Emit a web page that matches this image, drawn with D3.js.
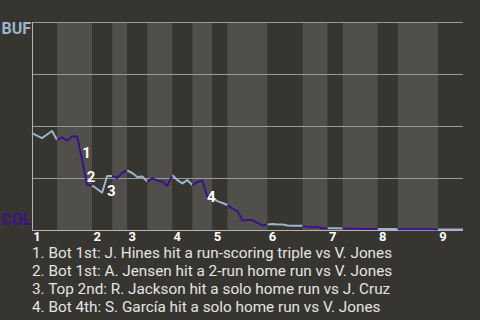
<!DOCTYPE html>
<html lang="en">
<head>
<meta charset="UTF-8">
<title>Win probability</title>
<script src="https://d3js.org/d3.v7.min.js"></script>
<style>
  html, body { margin: 0; padding: 0; background: #373530; }
  svg { display: block; font-family: Roboto, "Noto Sans", sans-serif; }
</style>
</head>
<body>
<div id="vis"></div>
<script>
// BUF win probability (%) after each plate appearance
var winProb = [
  46.6, 45.4, 44.2, 45.9, 47.6, 43.3, 44.5, 43.0, 45.0, 45.0,
  33.7, 21.6, 21.4, 19.7, 18.0, 26.0, 26.0, 25.0, 27.4, 28.6,
  27.4, 25.5, 25.7, 23.3, 24.8, 23.8, 23.3, 21.2, 26.4, 24.0,
  22.4, 24.0, 21.6, 23.1, 23.8, 15.9, 15.4, 13.9, 13.0, 12.0,
  10.3, 9.1, 4.6, 4.8, 4.8, 3.4, 2.2, 2.7, 2.9, 2.6,
  2.6, 2.2, 2.1, 2.1, 2.1, 1.4, 1.4, 1.4, 0.8, 0.8,
  0.8, 0.8, 0.7, 0.6, 0.6, 0.6, 0.5, 0.5, 0.5, 0.5,
  0.5, 0.5, 0.5, 0.4, 0.4, 0.4, 0.4, 0.4, 0.4, 0.4,
  0.4, 0.3, 0.3, 0.3, 0.3, 0.3, 0.2
];

// first plate appearance of each half inning (top 1 .. top 9)
var halfStarts = [0, 5, 12, 16, 19, 23, 28, 32, 36, 39, 47, 54, 59, 62, 69, 73, 81];
var lastPA = 86;

var innings = ['1', '2', '3', '4', '5', '6', '7', '8', '9'];
var teams = ['BUF', 'COL'];

var playLabels = ['1', '2', '3', '4'];
var playPA = [10.9, 11.8, 15.8, 35.8];
var playWP = [37.3, 25.5, 19.1, 16.2];

var plays = [
  '1. Bot 1st: J. Hines hit a run-scoring triple vs V. Jones',
  '2. Bot 1st: A. Jensen hit a 2-run home run vs V. Jones',
  '3. Top 2nd: R. Jackson hit a solo home run vs J. Cruz',
  '4. Bot 4th: S. García hit a solo home run vs V. Jones'
];

var W = 480, H = 320;
var bufColor = '#9bb6c9', colColor = '#3c128a';

var svg = d3.select('#vis').append('svg')
    .attr('width', W)
    .attr('height', H);

svg.append('rect')
    .attr('width', W)
    .attr('height', H)
    .attr('fill', '#373530');

var x = d3.scaleLinear().domain([0, lastPA]).range([32, 463]);
var y = d3.scaleLinear().domain([0, 100]).range([230, 22]);

var halves = halfStarts.map(function(s, i) {
    return { start: s, end: i < halfStarts.length - 1 ? halfStarts[i + 1] : lastPA, top: i % 2 === 0 };
});

// inning stripes
svg.append('g').selectAll('rect')
    .data(halves)
    .enter().append('rect')
    .attr('x', function(d) { return x(d.start); })
    .attr('width', function(d) { return x(d.end) - x(d.start); })
    .attr('y', y(100))
    .attr('height', y(0) - y(100))
    .attr('fill', function(d) { return d.top ? '#373530' : '#504f4c'; });

// grid lines
svg.append('g').selectAll('line')
    .data([25, 50, 75, 100])
    .enter().append('line')
    .attr('x1', x(0))
    .attr('x2', x(lastPA))
    .attr('y1', function(d) { return y(d) + 0.5; })
    .attr('y2', function(d) { return y(d) + 0.5; })
    .attr('stroke', '#9a9a98')
    .attr('stroke-width', 1);

// axes lines
svg.append('line')
    .attr('x1', x(0) + 0.5).attr('x2', x(0) + 0.5)
    .attr('y1', y(100)).attr('y2', y(0) + 1)
    .attr('stroke', '#b4b4b2');
svg.append('line')
    .attr('x1', x(0)).attr('x2', x(lastPA))
    .attr('y1', y(0) + 0.5).attr('y2', y(0) + 0.5)
    .attr('stroke', '#b4b4b2');

// win probability line, coloured by batting team
var line = d3.line()
    .x(function(d) { return x(d.pa); })
    .y(function(d) { return y(d.wp); });

svg.append('g').selectAll('path')
    .data(halves)
    .enter().append('path')
    .attr('d', function(d) {
        var pts = [];
        for (var i = d.start; i <= d.end; i++) pts.push({ pa: i, wp: winProb[i] });
        return line(pts);
    })
    .attr('fill', 'none')
    .attr('stroke', function(d) { return d.top ? bufColor : colColor; })
    .attr('stroke-width', 2)
    .attr('stroke-linejoin', 'round');

// play markers
svg.append('g').selectAll('text')
    .data(playLabels)
    .enter().append('text')
    .attr('x', function(d, i) { return x(playPA[i]); })
    .attr('y', function(d, i) { return y(playWP[i]); })
    .attr('dy', '0.36em')
    .attr('text-anchor', 'middle')
    .attr('fill', '#ffffff')
    .attr('font-size', 15)
    .attr('font-weight', 'bold')
    .text(function(d) { return d; });

// team labels
svg.append('text')
    .attr('x', 1.5).attr('y', 33.5)
    .attr('fill', bufColor)
    .attr('font-size', 16)
    .attr('font-weight', 'bold')
    .text(teams[0]);
svg.append('text')
    .attr('x', 1.5).attr('y', 225)
    .attr('fill', colColor)
    .attr('font-size', 16)
    .attr('font-weight', 'bold')
    .text(teams[1]);

// inning labels
var inningStarts = halfStarts.filter(function(d, i) { return i % 2 === 0; });
svg.append('g').selectAll('text')
    .data(innings)
    .enter().append('text')
    .attr('x', function(d, i) { return x(inningStarts[i]) + 5; })
    .attr('y', 241)
    .attr('text-anchor', 'middle')
    .attr('fill', '#ffffff')
    .attr('font-size', 13)
    .attr('font-weight', 'bold')
    .text(function(d) { return d; });

// play descriptions
svg.append('g').selectAll('text')
    .data(plays)
    .enter().append('text')
    .attr('x', 32)
    .attr('y', function(d, i) { return 258 + i * 18; })
    .attr('fill', '#e4e4e4')
    .attr('font-size', 15.3)
    .text(function(d) { return d; });
</script>
</body>
</html>
